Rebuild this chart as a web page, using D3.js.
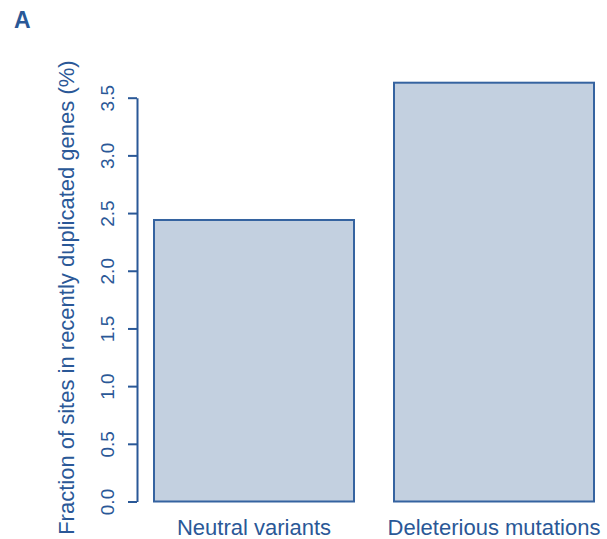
<!DOCTYPE html>
<html>
<head>
<meta charset="utf-8">
<script src="https://cdn.jsdelivr.net/npm/d3@7"></script>
<style>
  html, body { margin: 0; padding: 0; background: #fff; }
  svg { display: block; font-family: "Liberation Sans", Arial, Helvetica, sans-serif; }
</style>
</head>
<body>
<svg id="chart" width="607" height="539"></svg>
<script>
// Share of sites falling in recently duplicated genes, by variant class
const categories = ["Neutral variants", "Deleterious mutations"];
const fractions = [2.44, 3.63];
const yTicks = [0, 0.5, 1.0, 1.5, 2.0, 2.5, 3.0, 3.5];
const yTitle = "Fraction of sites in recently duplicated genes (%)";
const panelLabel = "A";

const ink = "#2a5897";
const fill = "#c3d0e0";
const edge = "#3563a0";

const svg = d3.select("#chart");

// x runs in bar units: width 1, spacing 0.2 between bars
const x = d3.scaleLinear().domain([0, 2.4]).range([114, 594]);
const y = d3.scaleLinear().domain([0, 3.5]).range([501.5, 97.7]);

const bars = categories.map((c, i) => ({
  name: c,
  value: fractions[i],
  left: 0.2 + i * 1.2,
  right: 1.2 + i * 1.2
}));

svg.append("g")
  .selectAll("rect")
  .data(bars)
  .join("rect")
  .attr("x", d => x(d.left))
  .attr("y", d => y(d.value))
  .attr("width", d => x(d.right) - x(d.left))
  .attr("height", d => y(0) - y(d.value))
  .attr("fill", fill)
  .attr("stroke", edge)
  .attr("stroke-width", 2);

// category labels under each bar
svg.append("g")
  .selectAll("text")
  .data(bars)
  .join("text")
  .attr("x", d => x((d.left + d.right) / 2))
  .attr("y", 535)
  .attr("text-anchor", "middle")
  .attr("fill", ink)
  .attr("font-size", 22)
  .text(d => d.name);

// y axis with rotated tick labels
const yAxis = d3.axisLeft(y)
  .tickValues(yTicks)
  .tickFormat(d3.format(".1f"))
  .tickSize(9)
  .tickSizeOuter(0);

const gy = svg.append("g")
  .attr("transform", "translate(137,0)")
  .call(yAxis);

gy.select(".domain").attr("stroke", ink).attr("stroke-width", 2);
gy.selectAll(".tick line").attr("stroke", ink).attr("stroke-width", 2);
gy.selectAll(".tick text")
  .attr("fill", ink)
  .attr("font-size", 19)
  .attr("x", 0)
  .attr("y", 0)
  .attr("dy", null)
  .attr("text-anchor", "middle")
  .attr("transform", "translate(-23,0) rotate(-90)");

svg.append("text")
  .attr("transform", "translate(74," + ((y(0) + y(3.5)) / 2 - 2) + ") rotate(-90)")
  .attr("text-anchor", "middle")
  .attr("fill", ink)
  .attr("font-size", 22)
  .text(yTitle);

svg.append("text")
  .attr("x", 14)
  .attr("y", 28)
  .attr("fill", ink)
  .attr("font-size", 23)
  .attr("font-weight", "bold")
  .text(panelLabel);
</script>
</body>
</html>
